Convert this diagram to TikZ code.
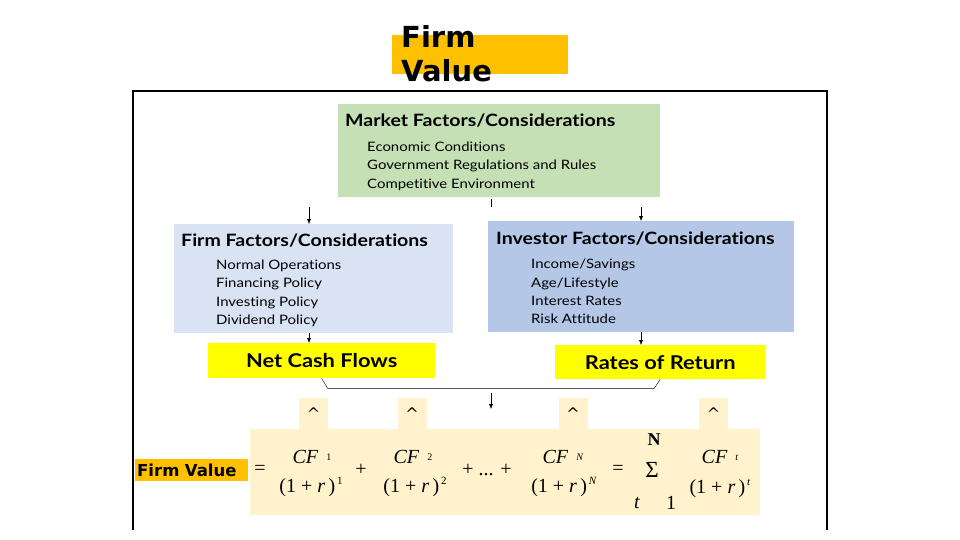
\documentclass[tikz,border=0pt]{standalone}
\usepackage{fontspec}
\setmainfont{Lato}[Ligatures=NoCommon, FakeStretch=1.15]
\newfontfamily\headfont{DejaVu Sans}
\newfontfamily\eqfont{Liberation Serif}
\usetikzlibrary{arrows.meta,positioning}

\definecolor{fvorange}{HTML}{FFC000}
\definecolor{mktgreen}{HTML}{C5E0B4}
\definecolor{firmblue}{HTML}{DAE3F3}
\definecolor{invblue}{HTML}{B4C7E7}
\definecolor{hiyellow}{HTML}{FFFF00}
\definecolor{paleyellow}{HTML}{FFF2CC}

\newcommand{\numer}[1]{\textit{CF}\hspace{8pt}\raisebox{3pt}{\fontsize{10}{10}\selectfont #1}}
\newcommand{\denom}[1]{(1 + \textit{r}\,)\raisebox{8pt}{\fontsize{11}{11}\selectfont\,#1}}

\begin{document}
\begin{tikzpicture}[x=1pt,y=-1pt,>={Latex[length=5pt,width=4pt]},
    panel/.style={inner sep=0, anchor=north west},
    head/.style={anchor=base west, inner sep=0, font=\bfseries\fontsize{17}{20}\selectfont},
    item/.style={anchor=base west, inner sep=0, font=\fontsize{13}{15}\selectfont},
    tag/.style={fill=hiyellow, inner sep=0, anchor=north west, font=\bfseries\fontsize{19}{21}\selectfont},
    caretbox/.style={fill=paleyellow, minimum width=29, minimum height=31, inner sep=0, anchor=south, font=\headfont\fontsize{16}{16}\selectfont},
    eq/.style={inner sep=0, font=\eqfont\fontsize{20}{22}\selectfont}]

  \useasboundingbox (0,0) rectangle (960,540);

  % title
  \node[panel, fill=fvorange, minimum width=176, minimum height=39] (titlebar) at (392,35) {};
  \node[anchor=base west, inner sep=0, font=\headfont\bfseries\fontsize{29}{34}\selectfont] (titleA) at (401,48) {Firm};
  \node[anchor=base west, inner sep=0, font=\headfont\bfseries\fontsize{29}{34}\selectfont] (titleB) at (401,82) {Value};

  % frame
  \draw[line width=1.2pt] (133,530) -- (133,91) -- (827,91) -- (827,530);

  % market
  \node[panel, fill=mktgreen, minimum width=322, minimum height=93] (market) at (338,104) {};
  \node[head] (mktHead) at (345,127) {Market Factors/Considerations};
  \node[item] (mkt1) at (367,151.5) {Economic Conditions};
  \node[item] (mkt2) at (367,169.5) {Government Regulations and Rules};
  \node[item] (mkt3) at (367,188.5) {Competitive Environment};

  % firm
  \node[panel, fill=firmblue, minimum width=279, minimum height=109] (firm) at (174,224) {};
  \node[head] (firmHead) at (181,246) {Firm Factors/Considerations};
  \node[item] (firm1) at (216,269.5) {Normal Operations};
  \node[item] (firm2) at (216,287.5) {Financing Policy};
  \node[item] (firm3) at (216,306.5) {Investing Policy};
  \node[item] (firm4) at (216,324.5) {Dividend Policy};

  % investor
  \node[panel, fill=invblue, minimum width=306, minimum height=111] (inv) at (488,221) {};
  \node[head] (invHead) at (496,244) {Investor Factors/Considerations};
  \node[item] (inv1) at (531,268.5) {Income/Savings};
  \node[item] (inv2) at (531,287.5) {Age/Lifestyle};
  \node[item] (inv3) at (531,305.5) {Interest Rates};
  \node[item] (inv4) at (531,323.5) {Risk Attitude};

  % flows and rates
  \node[tag, minimum width=227, minimum height=35] (ncf) at (208,343) {Net Cash Flows};
  \node[tag, minimum width=210, minimum height=34] (ror) at (555,345) {Rates of Return};

  % connectors
  \coordinate (mktL) at (309,207);
  \coordinate (mktR) at (641,207);
  \coordinate (mktC) at (491,207);
  \draw[->] (mktL) -- (firm.north -| mktL);
  \draw[->] (mktR) -- (inv.north -| mktR);
  \draw[shorten <=2pt] (market.south -| mktC) -- (mktC);
  \draw[->] (firm.south -| mktL) -- (ncf.north -| mktL);
  \draw[->] (inv.south -| mktR) -- (ror.north -| mktR);
  \draw (ncf.south) -- ([shift={(6,10)}]ncf.south) -- ([shift={(-6,9)}]ror.south) -- (ror.south);
  \coordinate (dnA) at (491,393);
  \coordinate (dnB) at (491,409);
  \draw[->] (dnA) -- (dnB);

  % formula
  \node[panel, fill=paleyellow, minimum width=510, minimum height=86] (fbox) at (250,429) {};
  \node[caretbox] (car1) at (313.5,429) {\textasciicircum};
  \node[caretbox] (car2) at (412,429) {\textasciicircum};
  \node[caretbox] (car3) at (573,429) {\textasciicircum};
  \node[caretbox] (car4) at (713.5,429) {\textasciicircum};
  \node[fill=fvorange, anchor=west, inner xsep=2, inner ysep=0, minimum height=22, text width=109,
        font=\headfont\bfseries\fontsize{16.5}{18}\selectfont] (fvlabel) at (135,470) {Firm Value};

  \node[eq] (eqA) at (260,470) {=};
  \node[eq] (num1) at (312,457) {\numer{1}};
  \node[eq] (den1) at (311,487) {\denom{1}};
  \node[eq] (plusA) at (361,470) {+};
  \node[eq] (num2) at (413,457) {\numer{2}};
  \node[eq] (den2) at (415,487) {\denom{2}};
  \node[eq] (dots) at (487,470) {+ ... +};
  \node[eq] (numN) at (563,457) {\numer{\textit{N}}};
  \node[eq] (denN) at (564,487) {\denom{\textit{N}}};
  \node[eq] (eqB) at (618,470) {=};
  \node[eq, font=\eqfont\bfseries\fontsize{18}{18}\selectfont] (sumN) at (654,440) {N};
  \node[eq, font=\eqfont\fontsize{23}{23}\selectfont] (sigma) at (652,470) {Σ};
  \node[eq, font=\eqfont\itshape\fontsize{20}{20}\selectfont] (sumt) at (637,503) {t};
  \node[eq] (sum1) at (671,503) {1};
  \node[eq] (numT) at (720,457) {\numer{\textit{t}}};
  \node[eq] (denT) at (720,489) {\denom{\textit{t}}};
\end{tikzpicture}
\end{document}
